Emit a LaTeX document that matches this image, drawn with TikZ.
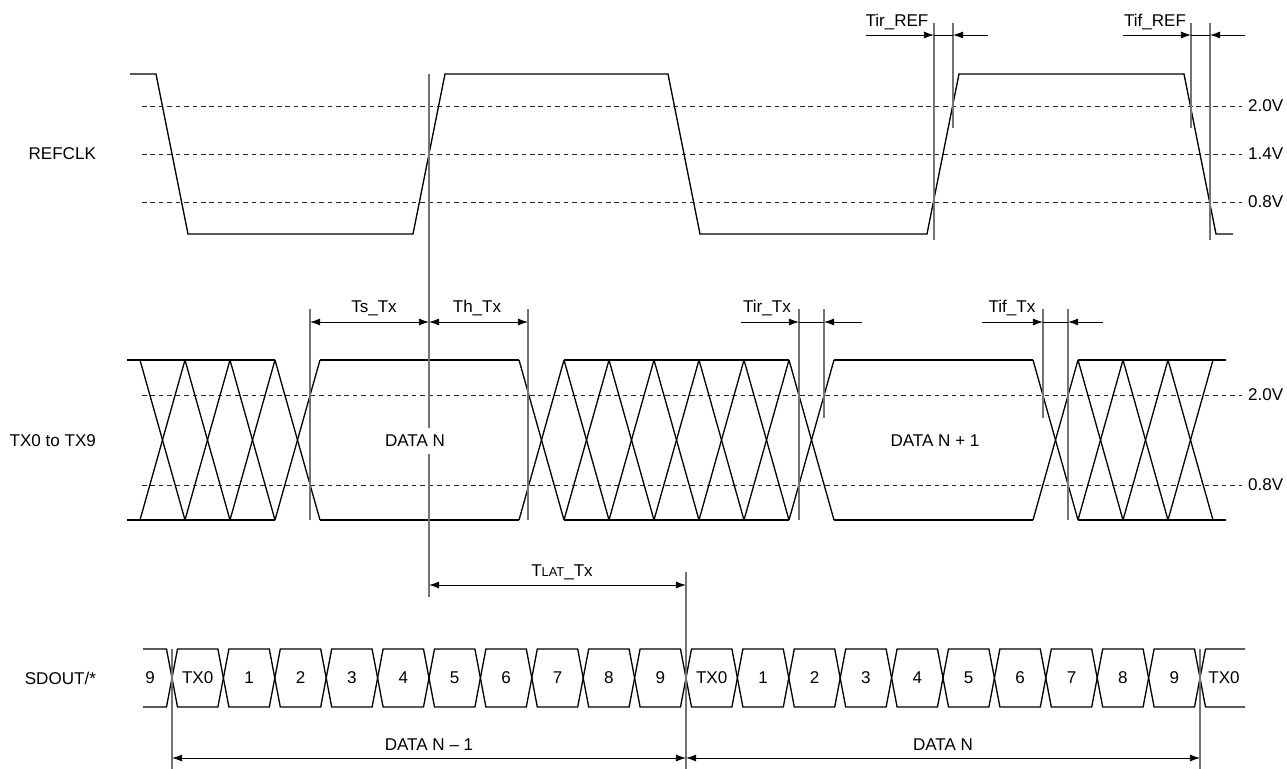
\documentclass[tikz,border=0pt]{standalone}
\usepackage{fontspec}
\setmainfont{Liberation Sans}
\usepackage{tikz}
\usetikzlibrary{arrows.meta,calc}

\newcommand{\sigfont}{\fontsize{9.7}{11.5}\selectfont}
\newcommand{\subfont}{\fontsize{7.3}{8.5}\selectfont}

\tikzset{
  wave/.style={line width=0.75pt, line join=miter},
  level/.style={line width=0.4pt, black!85, dash pattern=on 2.6pt off 2.2pt},
  marker/.style={line width=0.6pt, black!55},
  dim/.style={line width=0.5pt, -{Latex[length=5.8pt,width=4pt]}},
  ddim/.style={line width=0.5pt, {Latex[length=5.8pt,width=4pt]}-{Latex[length=5.8pt,width=4pt]}},
  lbl/.style={font=\sigfont, inner sep=1pt},
}

\begin{document}
\begin{tikzpicture}[x=0.2mm, y=-0.2mm]
\useasboundingbox (0,0) rectangle (1287,769);

% threshold levels
\foreach \y/\v in {106/2.0V,154/1.4V,202/0.8V,395/2.0V,485/0.8V}{
  \draw[level] (142,\y) -- (1242,\y);
  \node[lbl, anchor=west] (v\y) at (1246,\y) {\v};
}

% signal names
\node[lbl, anchor=east] (refclk) at (98,154) {REFCLK};
\node[lbl, anchor=east] (txbus) at (98,441) {TX0 to TX9};
\node[lbl, anchor=east] (sdout) at (98,678) {SDOUT/*};

% REFCLK
\draw[wave] (130,74) -- (156,74) -- (188,234) -- (413,234) -- (445,74) -- (668,74)
  -- (700,234) -- (927,234) -- (959,74) -- (1184,74) -- (1216,234) -- (1233,234);

% TX bus
\foreach \s/\e in {127/275,320/519,564/789,834/1033,1078/1226}{
  \draw[wave] (\s,360) -- (\e,360);
  \draw[wave] (\s,520) -- (\e,520);
}
\foreach \a in {140,185,230,275,519,564,609,654,699,744,789,1033,1078,1123,1168}{
  \draw[wave] (\a,360) -- ++(45,160);
  \draw[wave] (\a,520) -- ++(45,-160);
}

% SDOUT bits
\draw[wave] (143,649) -- (166.5,649) -- (172,678) -- (166.5,707) -- (143,707);
\node[lbl] (bitl) at (150,678) {9};
\foreach \t [count=\i from 0] in {TX0,1,2,3,4,5,6,7,8,9,TX0,1,2,3,4,5,6,7,8,9}{
  \pgfmathsetmacro\ca{172+51.4*\i}
  \pgfmathsetmacro\cb{172+51.4*(\i+1)}
  \draw[wave] (\ca,678) -- (\ca+5.5,649) -- (\cb-5.5,649) -- (\cb,678)
    -- (\cb-5.5,707) -- (\ca+5.5,707) -- cycle;
  \node[lbl] (bit\i) at (\ca+25.7,678) {\t};
}
\draw[wave] (1245,649) -- (1205.5,649) -- (1200,678) -- (1205.5,707) -- (1245,707);
\node[lbl] (bitr) at (1224,678) {TX0};

% reference edge
\coordinate (clk) at (429,74);
\coordinate (clkb) at (429,597);
\draw[marker] (clk) -- (clkb);

% Tir_REF / Tif_REF
\draw[marker] (934,23) -- (934,240);
\draw[marker] (953,23) -- (953,128);
\draw[marker] (1191,23) -- (1191,128);
\draw[marker] (1210,23) -- (1210,240);
\coordinate (irA) at (934,35); \coordinate (irB) at (953,35);
\coordinate (ifA) at (1191,35); \coordinate (ifB) at (1210,35);
\draw[dim] (866,35) -- (irA);
\draw[dim] (988,35) -- (irB);
\draw[line width=0.5pt] (irA) -- (irB);
\draw[dim] (1123,35) -- (ifA);
\draw[dim] (1245,35) -- (ifB);
\draw[line width=0.5pt] (ifA) -- (ifB);
\node[lbl] (tirref) at (897,22) {Tir\_REF};
\node[lbl] (tifref) at (1155,22) {Tif\_REF};

% Ts_Tx / Th_Tx
\draw[marker] (310,309) -- (310,520);
\draw[marker] (528,309) -- (528,520);
\coordinate (tsA) at (310,322); \coordinate (tsB) at (429,322);
\coordinate (thB) at (528,322);
\draw[ddim] (tsA) -- (tsB);
\draw[ddim] (tsB) -- (thB);
\node[lbl] (ts) at (374,308) {Ts\_Tx};
\node[lbl] (th) at (477,308) {Th\_Tx};

% Tir_Tx / Tif_Tx
\draw[marker] (799,309) -- (799,520);
\draw[marker] (824,309) -- (824,418);
\draw[marker] (1043,309) -- (1043,418);
\draw[marker] (1068,309) -- (1068,520);
\coordinate (rxA) at (799,322); \coordinate (rxB) at (824,322);
\coordinate (fxA) at (1043,322); \coordinate (fxB) at (1068,322);
\draw[dim] (741,322) -- (rxA);
\draw[dim] (862,322) -- (rxB);
\draw[line width=0.5pt] (rxA) -- (rxB);
\draw[dim] (982,322) -- (fxA);
\draw[dim] (1103,322) -- (fxB);
\draw[line width=0.5pt] (fxA) -- (fxB);
\node[lbl] (tirtx) at (767,308) {Tir\_Tx};
\node[lbl] (tiftx) at (1012,308) {Tif\_Tx};

% data labels
\node[lbl, fill=white, inner xsep=1pt, inner ysep=3.8pt] (datan) at (415,441) {DATA N};
\node[lbl] (datan1) at (935,441) {DATA N + 1};

% latency
\draw[marker] (686,572) -- (686,769);
\coordinate (latA) at (429,585); \coordinate (latB) at (686,585);
\draw[ddim] (latA) -- (latB);
\node[lbl] (tlat) at (562,572) {T{\subfont LAT}\_Tx};

% SDOUT words
\draw[marker] (172,649) -- (172,769);
\draw[marker] (1200,649) -- (1200,769);
\coordinate (wA) at (172,758); \coordinate (wB) at (686,758); \coordinate (wC) at (1200,758);
\draw[ddim] (wA) -- (wB);
\draw[ddim] (wB) -- (wC);
\node[lbl] (wprev) at (429,745) {DATA N \textendash{} 1};
\node[lbl] (wcur) at (943,745) {DATA N};
\end{tikzpicture}
\end{document}
